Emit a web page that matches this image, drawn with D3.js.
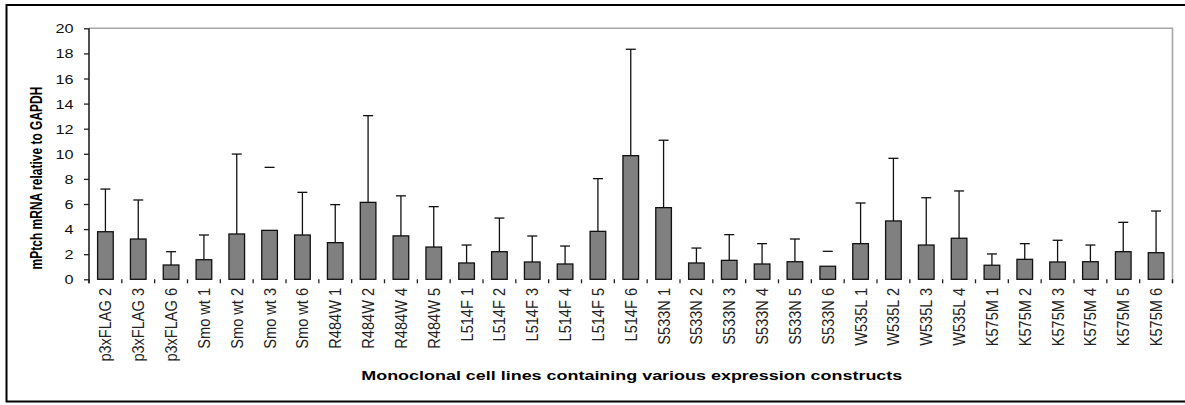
<!DOCTYPE html>
<html>
<head>
<meta charset="utf-8">
<script src="https://cdn.jsdelivr.net/npm/d3@7"></script>
<style>
  html, body { margin: 0; padding: 0; background: #fff; }
  svg { display: block; }
  text { font-family: "Liberation Sans", Arial, sans-serif; }
</style>
</head>
<body>
<svg id="chart" width="1185" height="405"></svg>
<script>
const categories = [
  "p3xFLAG 2", "p3xFLAG 3", "p3xFLAG 6",
  "Smo wt 1", "Smo wt 2", "Smo wt 3", "Smo wt 6",
  "R484W 1", "R484W 2", "R484W 4", "R484W 5",
  "L514F 1", "L514F 2", "L514F 3", "L514F 4", "L514F 5", "L514F 6",
  "S533N 1", "S533N 2", "S533N 3", "S533N 4", "S533N 5", "S533N 6",
  "W535L 1", "W535L 2", "W535L 3", "W535L 4",
  "K575M 1", "K575M 2", "K575M 3", "K575M 4", "K575M 5", "K575M 6"
];
const means = [
  3.79, 3.21, 1.14,
  1.56, 3.61, 3.90, 3.53,
  2.92, 6.13, 3.46, 2.57,
  1.30, 2.20, 1.38, 1.22, 3.82, 9.85,
  5.71, 1.30, 1.51, 1.22, 1.40, 1.04,
  2.84, 4.65, 2.73, 3.27,
  1.12, 1.59, 1.38, 1.40, 2.20, 2.12
];
const errorsUp = [
  3.40, 3.11, 1.06,
  1.97, 6.37, 5.02, 3.40,
  3.03, 6.91, 3.19, 3.22,
  1.43, 2.68, 2.07, 1.43, 4.20, 8.48,
  5.37, 1.19, 2.05, 1.62, 1.81, 1.19,
  3.24, 4.99, 3.77, 3.77,
  0.90, 1.25, 1.73, 1.33, 2.34, 3.32
];
// error bars whose vertical stem is not visible in the original (cap only)
const capOnly = ["Smo wt 3", "S533N 6"];
const yTicks = [0, 2, 4, 6, 8, 10, 12, 14, 16, 18, 20];
const yTitle = "mPtch mRNA relative to GAPDH";
const xTitle = "Monoclonal cell lines containing various expression constructs";

const data = categories.map((c, i) => ({ cat: c, mean: means[i], err: errorsUp[i] }));

const svg = d3.select("#chart");
const plot = { left: 89, right: 1172.5, top: 28.3, bottom: 279.3 };

const x = d3.scaleBand().domain(categories).range([plot.left, plot.right]).padding(0);
const y = d3.scaleLinear().domain([0, 20]).range([plot.bottom, plot.top]);

// outer frame
svg.append("rect")
  .attr("x", 6.5).attr("y", 5).attr("width", 1200).attr("height", 396.5)
  .attr("fill", "none").attr("stroke", "#000").attr("stroke-width", 2);

// plot border (gray top & right)
svg.append("path")
  .attr("d", `M${plot.left},${plot.top}H${plot.right}V${plot.bottom + 4}`)
  .attr("fill", "none").attr("stroke", "#a6a6a6").attr("stroke-width", 1.6);

// bars
const bw = x.bandwidth() / 2.1;
svg.append("g").selectAll("rect").data(data).join("rect")
  .attr("x", d => x(d.cat) + (x.bandwidth() - bw) / 2)
  .attr("y", d => y(d.mean))
  .attr("width", bw)
  .attr("height", d => y(0) - y(d.mean))
  .attr("fill", "#808080")
  .attr("stroke", "#111").attr("stroke-width", 1.3);

// error bars
const eg = svg.append("g").attr("stroke", "#111").attr("stroke-width", 1.3);
data.forEach(d => {
  const cx = x(d.cat) + x.bandwidth() / 2;
  if (!capOnly.includes(d.cat)) {
    eg.append("line").attr("x1", cx).attr("x2", cx)
      .attr("y1", y(d.mean)).attr("y2", y(d.mean + d.err));
  }
  eg.append("line").attr("x1", cx - 5).attr("x2", cx + 5)
    .attr("y1", y(d.mean + d.err)).attr("y2", y(d.mean + d.err));
});

// y axis
const yAxis = svg.append("g")
  .attr("transform", `translate(${plot.left},0)`)
  .call(d3.axisLeft(y).tickValues(yTicks).tickSize(5).tickSizeOuter(0).tickFormat(d3.format("d")));
yAxis.select(".domain").attr("stroke", "#222").attr("stroke-width", 1.6)
  .attr("d", `M0,${plot.top}V${plot.bottom + 4}`);
yAxis.selectAll(".tick line").attr("stroke", "#222").attr("stroke-width", 1.3);
yAxis.selectAll(".tick text")
  .attr("x", null).attr("dy", "0.36em")
  .attr("transform", "translate(-15.5,0) scale(1.3,1)")
  .attr("text-anchor", "end")
  .attr("font-size", 12.5).attr("fill", "#111")
  .style("font-family", '"Liberation Sans", Arial, sans-serif');

// x axis ticks (no baseline line)
const xAxis = svg.append("g")
  .attr("transform", `translate(0,${plot.bottom})`);
const boundaries = categories.map(c => x(c)).concat([plot.right]);
xAxis.selectAll("line").data(boundaries).join("line")
  .attr("x1", d => d).attr("x2", d => d)
  .attr("y1", 0).attr("y2", 4)
  .attr("stroke", "#222").attr("stroke-width", 1.3);

// category labels (rotated)
svg.append("g").selectAll("text").data(categories).join("text")
  .attr("transform", d => `translate(${x(d) + x.bandwidth() / 2},288) rotate(-90) scale(1.12,1.3)`)
  .attr("text-anchor", "end")
  .attr("dy", "0.35em")
  .attr("font-size", 13)
  .attr("fill", "#222")
  .text(d => d);

// axis titles
svg.append("text")
  .attr("transform", "translate(42,178) rotate(-90) scale(1,1.45)")
  .attr("text-anchor", "middle")
  .attr("font-size", 12).attr("font-weight", "bold").attr("fill", "#000")
  .text(yTitle);

svg.append("text")
  .attr("transform", `translate(${(plot.left + plot.right) / 2 + 1},379.5) scale(1.38,1)`)
  .attr("text-anchor", "middle")
  .attr("font-size", 13).attr("font-weight", "bold").attr("fill", "#000")
  .text(xTitle);
</script>
</body>
</html>
